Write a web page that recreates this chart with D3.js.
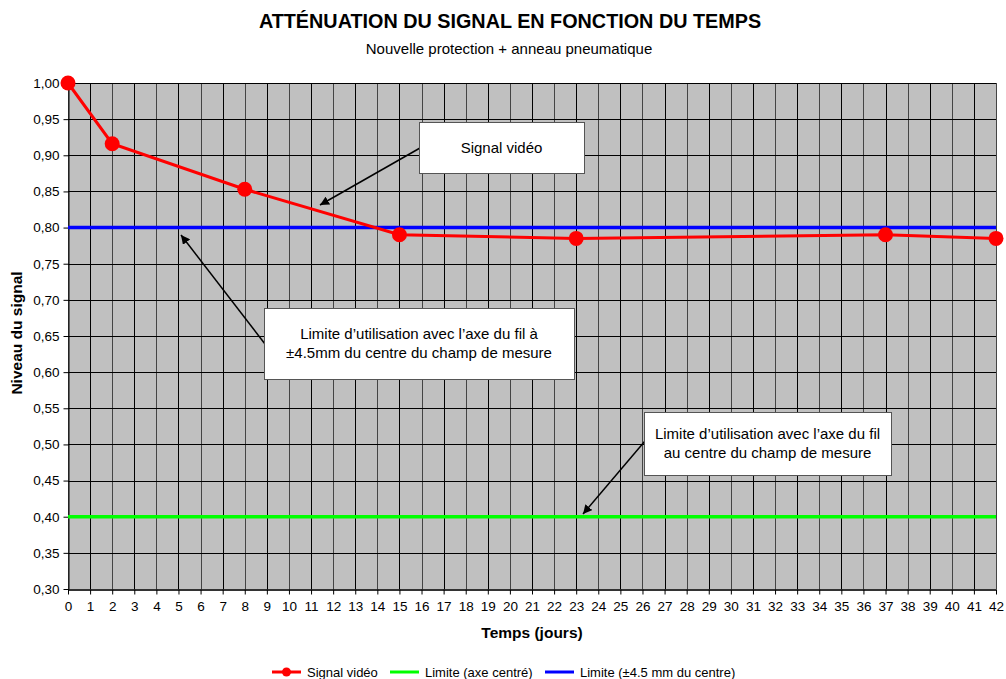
<!DOCTYPE html>
<html>
<head>
<meta charset="utf-8">
<script src="https://cdn.jsdelivr.net/npm/d3@7"></script>
<style>
  body { margin: 0; background: #fff; }
  svg { font-family: "Liberation Sans", Arial, sans-serif; }
</style>
</head>
<body>
<div id="chart"></div>
<script>
// donnees
var jours = [0, 2, 8, 15, 23, 37, 42];
var signal = [1.00, 0.916, 0.853, 0.790, 0.785, 0.790, 0.785];
var limiteCentre = 0.40;
var limiteDecale = 0.80;
var xTicks = d3.range(0, 43);
var yTicks = [0.30, 0.35, 0.40, 0.45, 0.50, 0.55, 0.60, 0.65, 0.70, 0.75, 0.80, 0.85, 0.90, 0.95, 1.00];
var legendLabels = ["Signal vidéo", "Limite (axe centré)", "Limite (±4.5 mm du centre)"];

var width = 1006, height = 679;
var margin = { top: 83, right: 10, bottom: 90, left: 68 };

var svg = d3.select("#chart").append("svg")
    .attr("width", width)
    .attr("height", height);

var x = d3.scaleLinear().domain([0, 42]).range([margin.left, width - margin.right]);
var y = d3.scaleLinear().domain([0.30, 1.00]).range([height - margin.bottom, margin.top]);

var fr = d3.formatLocale({ decimal: ",", thousands: " ", grouping: [3], currency: ["", " €"] });
var fmt = fr.format(".2f");

// fond gris
svg.append("rect")
    .attr("x", x(0))
    .attr("y", y(1))
    .attr("width", x(42) - x(0))
    .attr("height", y(0.30) - y(1))
    .style("fill", "#c0c0c0");

// grille
var grid = svg.append("g");
grid.selectAll(".vg").data(xTicks).enter().append("line")
    .attr("x1", function(d) { return Math.round(x(d)) + 0.5; })
    .attr("x2", function(d) { return Math.round(x(d)) + 0.5; })
    .attr("y1", y(1))
    .attr("y2", y(0.30))
    .style("stroke", function(d) { return d % 2 ? "#000" : "#444"; })
    .style("stroke-width", 1);
grid.selectAll(".hg").data(yTicks).enter().append("line")
    .attr("x1", x(0))
    .attr("x2", x(42))
    .attr("y1", function(d) { return Math.round(y(d)) + 0.5; })
    .attr("y2", function(d) { return Math.round(y(d)) + 0.5; })
    .style("stroke", "#000")
    .style("stroke-width", 1);

// axes
var xAxis = svg.append("g")
    .attr("transform", "translate(0," + (Math.round(y(0.30)) + 0.5) + ")")
    .call(d3.axisBottom(x).tickValues(xTicks).tickSize(5).tickSizeOuter(0).tickFormat(d3.format("d")));
xAxis.select(".domain").style("stroke", "#333").style("stroke-width", 2);

var yAxis = svg.append("g")
    .attr("transform", "translate(" + (Math.round(x(0)) + 0.5) + ",0)")
    .call(d3.axisLeft(y).tickValues(yTicks).tickSize(5).tickSizeOuter(0).tickFormat(fmt));

svg.selectAll(".tick text")
    .style("font-size", "13.5px")
    .style("fill", "#000")
    .style("font-family", "Liberation Sans, Arial, sans-serif");
xAxis.selectAll(".tick text").attr("dy", "0.71em").attr("y", 12);
yAxis.selectAll(".tick text").attr("x", -9);

// lignes limites
svg.append("line")
    .attr("x1", x(0)).attr("x2", x(42))
    .attr("y1", y(limiteCentre)).attr("y2", y(limiteCentre))
    .style("stroke", "#00ff00")
    .style("stroke-width", 3.5);
svg.append("line")
    .attr("x1", x(0)).attr("x2", x(42))
    .attr("y1", y(limiteDecale)).attr("y2", y(limiteDecale))
    .style("stroke", "#0000ff")
    .style("stroke-width", 3.5);

// signal video
var line = d3.line()
    .x(function(d, i) { return x(jours[i]); })
    .y(function(d) { return y(d); });

svg.append("path")
    .datum(signal)
    .attr("d", line)
    .style("fill", "none")
    .style("stroke", "#ff0000")
    .style("stroke-width", 3);

svg.selectAll(".pt").data(signal).enter().append("circle")
    .attr("cx", function(d, i) { return x(jours[i]); })
    .attr("cy", function(d) { return y(d); })
    .attr("r", 7.5)
    .style("fill", "#ff0000");

// titres
svg.append("text")
    .attr("x", 510).attr("y", 28)
    .attr("text-anchor", "middle")
    .style("font-size", "19.8px")
    .style("font-weight", "bold")
    .text("ATTÉNUATION DU SIGNAL EN FONCTION DU TEMPS");
svg.append("text")
    .attr("x", 509).attr("y", 54)
    .attr("text-anchor", "middle")
    .style("font-size", "15px")
    .text("Nouvelle protection + anneau pneumatique");
svg.append("text")
    .attr("x", 532).attr("y", 638)
    .attr("text-anchor", "middle")
    .style("font-size", "15.5px")
    .style("font-weight", "bold")
    .text("Temps (jours)");
svg.append("text")
    .attr("transform", "translate(22,333) rotate(-90)")
    .attr("text-anchor", "middle")
    .style("font-size", "15.5px")
    .style("font-weight", "bold")
    .text("Niveau du signal");

// annotations
var defs = svg.append("defs");
defs.append("marker")
    .attr("id", "fleche")
    .attr("viewBox", "0 0 10 10")
    .attr("refX", 10).attr("refY", 5)
    .attr("markerWidth", 9).attr("markerHeight", 9)
    .attr("markerUnits", "userSpaceOnUse")
    .attr("orient", "auto")
  .append("path")
    .attr("d", "M0,0 L10,5 L0,10 z")
    .style("fill", "#000");

function annot(bx, by, bw, bh, lignes, ax1, ay1, ax2, ay2) {
    svg.append("line")
        .attr("x1", ax1).attr("y1", ay1)
        .attr("x2", ax2).attr("y2", ay2)
        .style("stroke", "#000")
        .style("stroke-width", 1.5)
        .attr("marker-end", "url(#fleche)");
    svg.append("rect")
        .attr("x", bx + 0.5).attr("y", by + 0.5)
        .attr("width", bw).attr("height", bh)
        .style("fill", "#fff")
        .style("stroke", "#555")
        .style("stroke-width", 1);
    var t = svg.append("text")
        .attr("text-anchor", "middle")
        .style("font-size", "15px");
    var y0 = by + bh / 2 - (lignes.length - 1) * 9.5 + 5;
    lignes.forEach(function(l, i) {
        t.append("tspan")
            .attr("x", bx + bw / 2)
            .attr("y", y0 + i * 19)
            .text(l);
    });
}

annot(419, 122, 165, 51, ["Signal vidéo"], 420, 148, 320, 205);
annot(264, 308, 310, 71, ["Limite d’utilisation avec l’axe du fil à", "±4.5mm du centre du champ de mesure"], 265, 344, 181, 235);
annot(644, 412, 247, 63, ["Limite d’utilisation avec l’axe du fil", "au centre du champ de mesure"], 645, 441, 583, 514);

// legende
var legX = [272, 390, 545];
var legColors = ["#ff0000", "#00ff00", "#0000ff"];
var leg = svg.append("g");
legendLabels.forEach(function(l, i) {
    leg.append("line")
        .attr("x1", legX[i]).attr("x2", legX[i] + 29)
        .attr("y1", 672).attr("y2", 672)
        .style("stroke", legColors[i])
        .style("stroke-width", 3);
    if (i === 0) {
        leg.append("circle")
            .attr("cx", legX[i] + 14.5).attr("cy", 672)
            .attr("r", 4.5)
            .style("fill", legColors[i]);
    }
    leg.append("text")
        .attr("x", legX[i] + 35).attr("y", 677)
        .style("font-size", "13px")
        .text(l);
});
</script>
</body>
</html>
